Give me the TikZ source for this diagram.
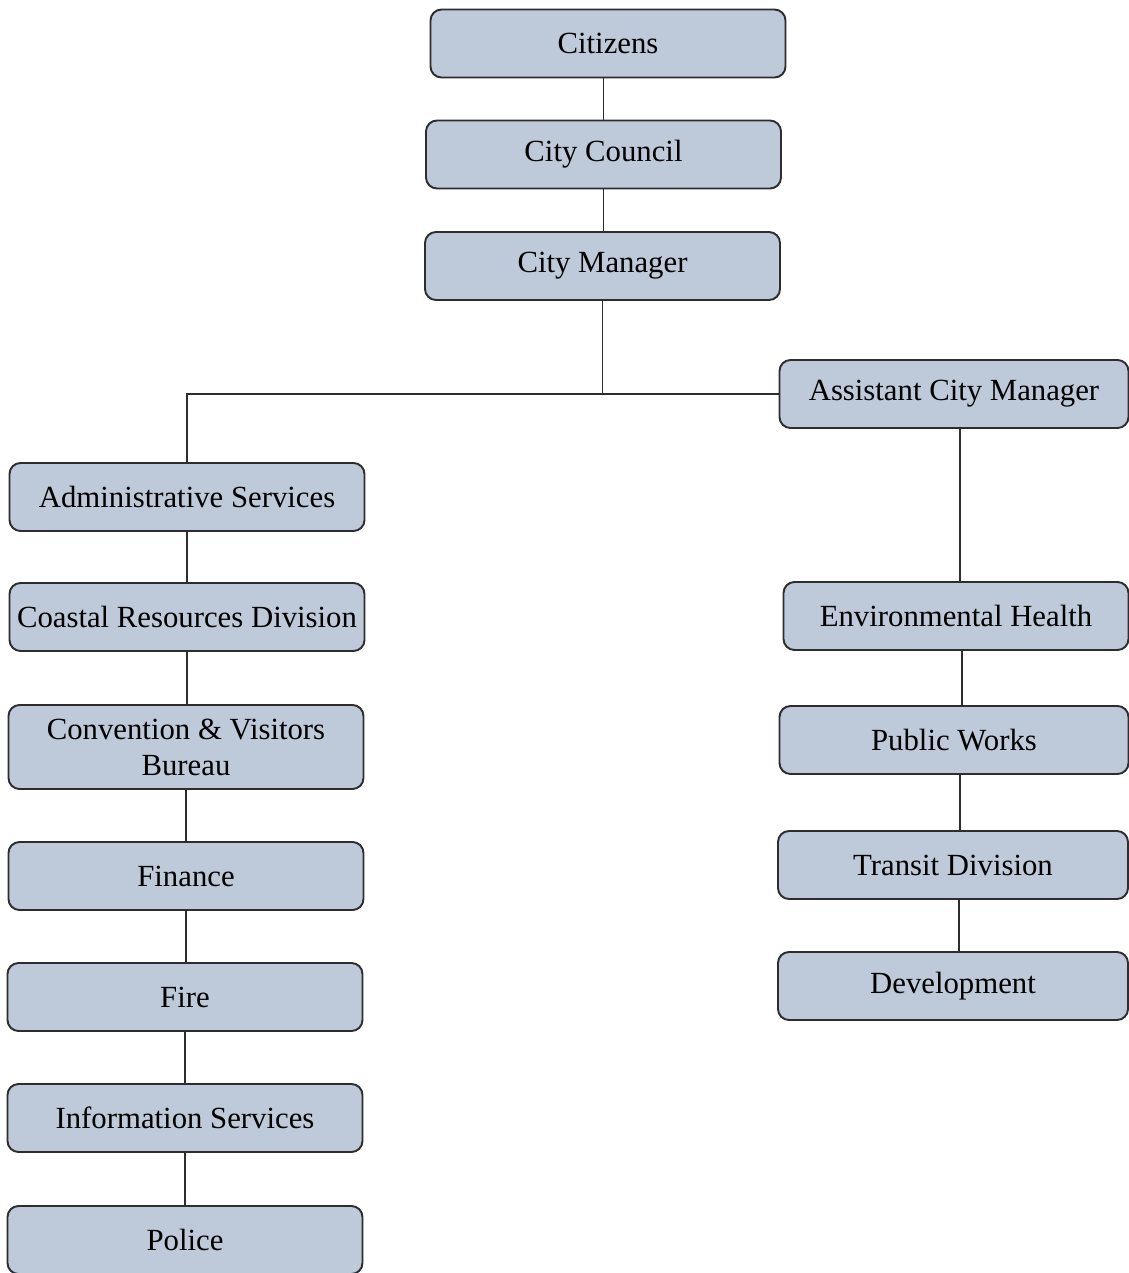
\documentclass[tikz,border=0pt]{standalone}
\usepackage{fontspec}
\setmainfont{Liberation Serif}
\usepackage{tikz}

\definecolor{boxblue}{RGB}{190,201,217}
\definecolor{boxline}{RGB}{45,45,45}

\tikzset{
	orgbox/.style={draw=boxline,line width=1.1pt,fill=boxblue,rounded corners=0.22cm,
		minimum width=7.1cm,minimum height=1.36cm,inner sep=0pt,align=center,
		font=\fontsize{17.5}{20.5}\selectfont},
	rightbox/.style={orgbox,minimum width=6.98cm},
	orgline/.style={draw=boxline,line width=1.1pt}
}

\begin{document}
\begin{tikzpicture}
	\useasboundingbox[fill=white] (0,0) rectangle (22.58,-25.46);
	% top of the chart
	\node[orgbox] (citizens) at (12.16,-0.87) {Citizens};
	\node[orgbox] (council) at (12.07,-3.09) {City Council};
	\node[orgbox] (manager) at (12.05,-5.32) {City Manager};
	\node[rightbox] (assistant) at (19.08,-7.88) {Assistant City Manager};
	% left column
	\node[orgbox] (admin) at (3.74,-9.94) {Administrative Services};
	\node[orgbox] (coastal) at (3.74,-12.34) {Coastal Resources Division};
	\node[orgbox,minimum height=1.68cm] (convention) at (3.72,-14.94) {Convention \& Visitors\\Bureau};
	\node[orgbox] (finance) at (3.72,-17.52) {Finance};
	\node[orgbox] (fire) at (3.70,-19.94) {Fire};
	\node[orgbox] (info) at (3.70,-22.36) {Information Services};
	\node[orgbox] (police) at (3.70,-24.80) {Police};
	% right column
	\node[rightbox,minimum width=6.9cm] (envhealth) at (19.12,-12.32) {Environmental Health};
	\node[rightbox] (publicworks) at (19.08,-14.80) {Public Works};
	\node[rightbox,minimum width=7.0cm] (transit) at (19.06,-17.30) {Transit Division};
	\node[rightbox,minimum width=7.0cm] (development) at (19.06,-19.72) {Development};

	\draw[orgline] (citizens.south -| council.south) -- (council.north);
	\draw[orgline] (council.south) -- (council.south |- manager.north);
	\draw[orgline] (manager.south) -- (manager.south |- assistant.west);
	\draw[orgline] (admin.north) |- (assistant.west);
	\foreach \a/\b in {admin/coastal,coastal/convention,convention/finance,finance/fire,fire/info,info/police} {
		\draw[orgline] (\a.south) -- (\a.south |- \b.north);
	}
	\foreach \a/\b in {assistant/envhealth,envhealth/publicworks,publicworks/transit,transit/development} {
		\draw[orgline] ([xshift=0.12cm]\a.south) -- ([xshift=0.12cm]\a.south |- \b.north);
	}
\end{tikzpicture}
\end{document}
